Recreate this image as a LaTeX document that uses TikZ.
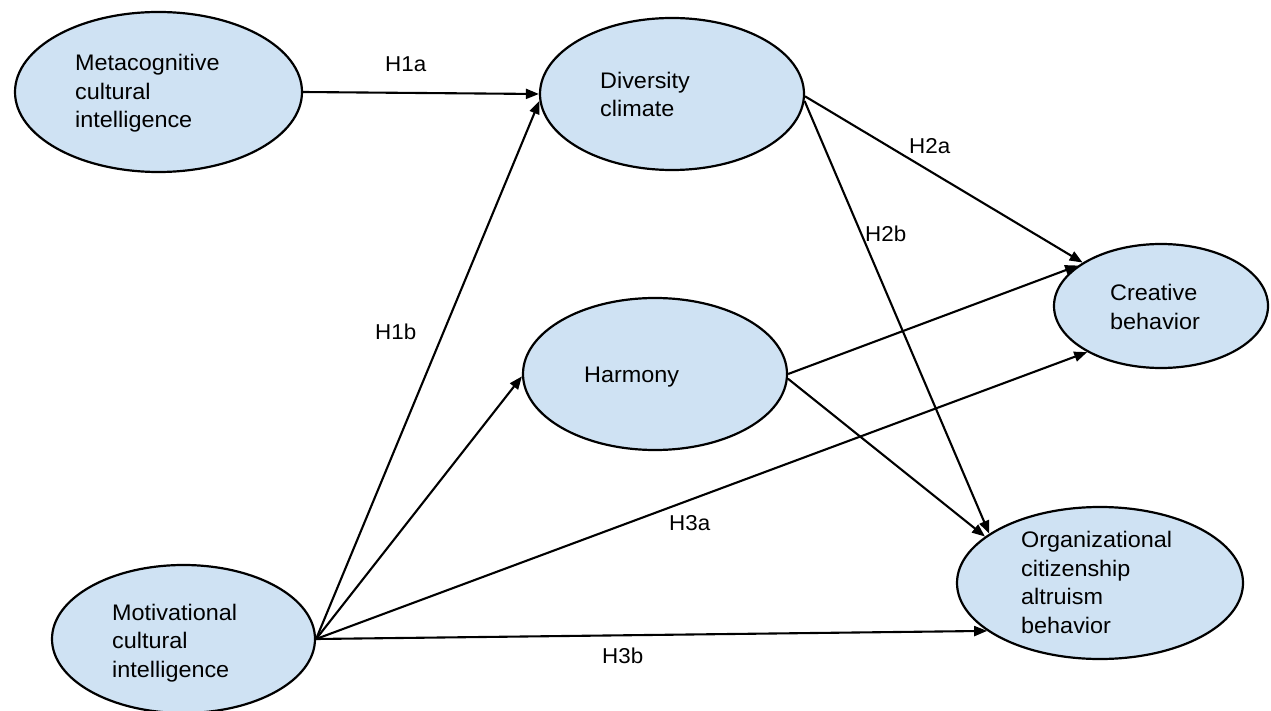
\documentclass[tikz,border=0pt]{standalone}
\usepackage{fontspec}
\setmainfont{Liberation Sans}[FakeStretch=1.04]
\usetikzlibrary{arrows.meta,shapes.geometric}
\definecolor{ellfill}{RGB}{207,226,243}
\tikzset{
  construct/.style={ellipse, draw=black, line width=2.2pt, fill=ellfill, inner sep=0pt},
  lbl/.style={anchor=base west, inner sep=0pt, align=left, font=\fontsize{22.5pt}{28.5pt}\selectfont},
  hyp/.style={anchor=base west, inner sep=0pt, font=\fontsize{21.5pt}{28.5pt}\selectfont},
  path/.style={line width=2.1pt, -{Triangle[length=13pt,width=10pt]}}
}
\begin{document}
\begin{tikzpicture}[x=1pt,y=-1pt]
\useasboundingbox (0,0) rectangle (1271,711);
% constructs
\node[construct, minimum width=287pt, minimum height=160pt] (meta) at (158.5,92) {};
\node[construct, minimum width=264pt, minimum height=152pt] (div) at (672,94) {};
\node[construct, minimum width=264pt, minimum height=152pt] (harm) at (655,374) {};
\node[construct, minimum width=214pt, minimum height=124pt] (crea) at (1161,306) {};
\node[construct, minimum width=286pt, minimum height=152pt] (org) at (1100,583) {};
\node[construct, minimum width=263pt, minimum height=148pt] (mot) at (183.5,639) {};
% texts (anchored at baseline of last line)
\node[lbl] (tmeta) at (75,128) {Metacognitive\\cultural\\intelligence};
\node[lbl] (tdiv) at (600,117) {Diversity\\climate};
\node[lbl] (tharm) at (584,382) {Harmony};
\node[lbl] (tcrea) at (1110,329) {Creative\\behavior};
\node[lbl] (torg) at (1021,633) {Organizational\\citizenship\\altruism\\behavior};
\node[lbl] (tmot) at (112,677) {Motivational\\cultural\\intelligence};
% paths
\draw[path] (meta.east) -- (div.west);
\draw[path] (mot.east) -- (div.183);
\draw[path] (mot.east) -- (harm.181);
\draw[path] (mot.east) -- (crea.212);
\draw[path] (mot.east) -- (org.203);
\draw[path] (div.359) -- (crea.151);
\draw[path] (div.357) -- (org.156);
\draw[path] (harm.0) -- (crea.154);
\draw[path] (harm.358) -- (org.158);
% hypothesis labels
\node[hyp] (h1a) at (385,72) {H1a};
\node[hyp] (h1b) at (375,339) {H1b};
\node[hyp] (h2a) at (909,154) {H2a};
\node[hyp] (h2b) at (865,242) {H2b};
\node[hyp] (h3a) at (669,530) {H3a};
\node[hyp] (h3b) at (602,663) {H3b};
\end{tikzpicture}
\end{document}
